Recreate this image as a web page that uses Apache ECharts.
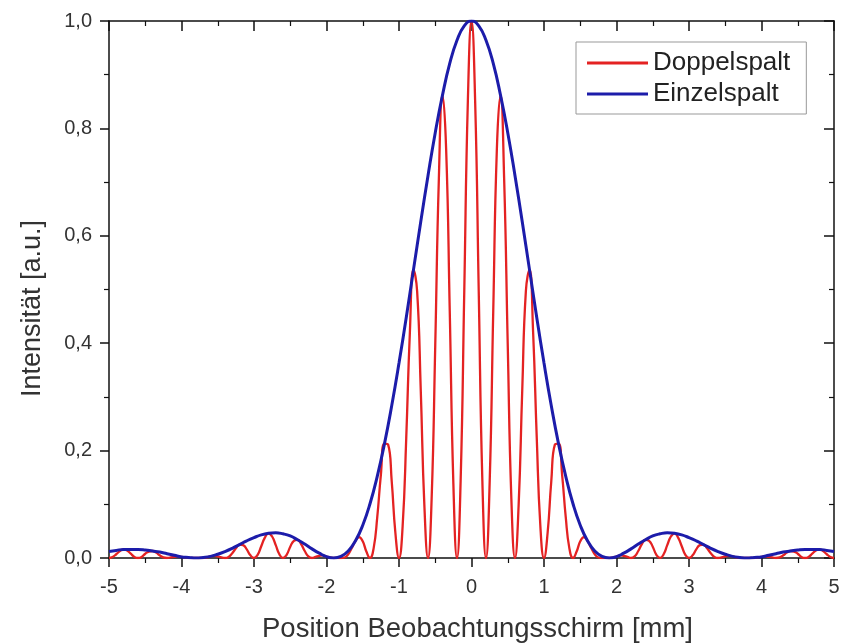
<!DOCTYPE html>
<html>
<head>
<meta charset="utf-8">
<script src="https://cdn.jsdelivr.net/npm/echarts@6/dist/echarts.min.js"></script>
<style>
html, body { margin: 0; padding: 0; background: #fff; }
#chart { width: 849px; height: 644px; }
</style>
</head>
<body>
<div id="chart"></div>
<script>
var doppelStart = -5, doppelStep = 0.05;
var doppelspalt = [
    0,0.002,0.007,0.013,0.016,0.014,0.008,0.002,0,0.002,
    0.008,0.012,0.013,0.010,0.005,0.001,0,0.001,0.002,0.003,
    0.002,0.001,0,0,0,0,0,0.001,0.003,0.004,
    0.003,0.001,0,0.002,0.009,0.018,0.025,0.024,0.016,0.005,
    0,0.006,0.022,0.038,0.046,0.040,0.024,0.007,0,0.006,
    0.021,0.032,0.034,0.026,0.013,0.003,0,0.002,0.004,0.005,
    0.0025,0.001,0,0,0,0.001,0.007,0.019,0.032,0.039,
    0.031,0.012,0,0.018,0.076,0.155,0.213,0.211,0.142,0.047,
    0,0.059,0.224,0.420,0.537,0.497,0.313,0.098,0,0.110,
    0.396,0.707,0.862,0.762,0.460,0.138,0,0.143,0.495,0.852,
    1.000,
    0.852,0.495,0.143,0,0.138,0.460,0.762,0.862,0.707,0.396,
    0.110,0,0.098,0.313,0.497,0.537,0.420,0.224,0.059,0,
    0.047,0.142,0.211,0.213,0.155,0.076,0.018,0,0.012,0.031,
    0.039,0.032,0.019,0.007,0.001,0,0,0,0.001,0.0025,
    0.005,0.004,0.002,0,0.003,0.013,0.026,0.034,0.032,0.021,
    0.006,0,0.007,0.024,0.040,0.046,0.038,0.022,0.006,0,
    0.005,0.016,0.024,0.025,0.018,0.009,0.002,0,0.001,0.003,
    0.004,0.003,0.001,0,0,0,0,0,0.001,0.002,
    0.003,0.002,0.001,0,0.001,0.005,0.010,0.013,0.012,0.008,
    0.002,0,0.002,0.008,0.014,0.016,0.013,0.007,0.002,0
];

var einzelStart = -5, einzelStep = 0.1;
var einzelspalt = [
    0.012,0.014,0.016,0.016,0.016,0.015,0.013,0.011,0.008,0.005,
    0.002,0.001,0,0.001,0.003,0.007,0.012,0.018,0.025,0.032,
    0.038,0.043,0.046,0.047,0.045,0.041,0.034,0.026,0.017,0.009,
    0.0025,0,0.003,0.013,0.032,0.061,0.101,0.152,0.213,0.284,
    0.363,0.448,0.537,0.626,0.712,0.792,0.862,0.921,0.964,0.991,
    1.000,
    0.991,0.964,0.921,0.862,0.792,0.712,0.626,0.537,0.448,0.363,
    0.284,0.213,0.152,0.101,0.061,0.032,0.013,0.003,0,0.0025,
    0.009,0.017,0.026,0.034,0.041,0.045,0.047,0.046,0.043,0.038,
    0.032,0.025,0.018,0.012,0.007,0.003,0.001,0,0.001,0.002,
    0.005,0.008,0.011,0.013,0.015,0.016,0.016,0.016,0.014,0.012
];

var seriesNames = ['Doppelspalt', 'Einzelspalt'];
var xName = 'Position Beobachtungsschirm [mm]';
var yName = 'Intensität [a.u.]';

function pairs(start, step, values) {
    var out = [];
    for (var i = 0; i < values.length; i++) {
        out.push([+(start + i * step).toFixed(3), values[i]]);
    }
    return out;
}

var font = 'Liberation Sans, Arial, sans-serif';
var axisCol = '#111';
var myChart = echarts.init(document.getElementById('chart'));

function xAx(pos, labels) {
    return {
        type: 'value', position: pos, min: -5, max: 5, interval: 1,
        name: labels ? xName : '', nameLocation: 'middle', nameGap: 57,
        nameTextStyle: { fontFamily: font, fontSize: 27.5, color: '#333', padding: [0, 0, 0, 12] },
        axisLine: { onZero: false, lineStyle: { color: axisCol, width: 1.5 } },
        axisTick: { show: true, inside: !labels, length: labels ? 9 : 10, lineStyle: { color: axisCol, width: 1.5 } },
        minorTick: { show: true, splitNumber: 2, length: 5, lineStyle: { color: axisCol, width: 1.2 } },
        axisLabel: { show: labels, fontFamily: font, fontSize: 20, color: '#333', margin: 19 },
        splitLine: { show: false }
    };
}
function yAx(pos, labels) {
    return {
        type: 'value', position: pos, min: 0, max: 1, interval: 0.2,
        name: labels ? yName : '', nameLocation: 'middle', nameGap: 63,
        nameTextStyle: { fontFamily: font, fontSize: 27, color: '#333', padding: [0, 38, 0, 0] },
        axisLine: { onZero: false, lineStyle: { color: axisCol, width: 1.5 } },
        axisTick: { show: true, inside: !labels, length: labels ? 9 : 10, lineStyle: { color: axisCol, width: 1.5 } },
        minorTick: { show: true, splitNumber: 2, length: 5, lineStyle: { color: axisCol, width: 1.2 } },
        axisLabel: {
            show: labels, fontFamily: font, fontSize: 20, color: '#333', margin: 17,
            formatter: function (v) { return v.toFixed(1).replace('.', ','); }
        },
        splitLine: { show: false }
    };
}

var option = {
    animation: false,
    backgroundColor: '#fff',
    grid: { left: 109, right: 15, top: 21, bottom: 86, containLabel: false, outerBoundsMode: 'none' },
    legend: {
        left: 576, top: 42,
        orient: 'vertical',
        padding: [8, 16, 7, 11],
        itemGap: 5,
        itemWidth: 61, itemHeight: 3,
        itemTextGap: 13,
        icon: 'rect',
        borderColor: '#999', borderWidth: 1,
        textStyle: { fontFamily: font, fontSize: 26, color: '#222' },
        data: seriesNames
    },
    xAxis: [xAx('bottom', true), xAx('top', false)],
    yAxis: [yAx('left', true), yAx('right', false)],
    series: [
        {
            name: seriesNames[0], type: 'line', symbol: 'none', smooth: true,
            lineStyle: { color: '#e42222', width: 2.3 },
            itemStyle: { color: '#e42222' },
            data: pairs(doppelStart, doppelStep, doppelspalt)
        },
        {
            name: seriesNames[1], type: 'line', symbol: 'none', smooth: true,
            lineStyle: { color: '#1c1caa', width: 3 },
            itemStyle: { color: '#1c1caa' },
            data: pairs(einzelStart, einzelStep, einzelspalt)
        }
    ]
};

myChart.setOption(option);
</script>
</body>
</html>
